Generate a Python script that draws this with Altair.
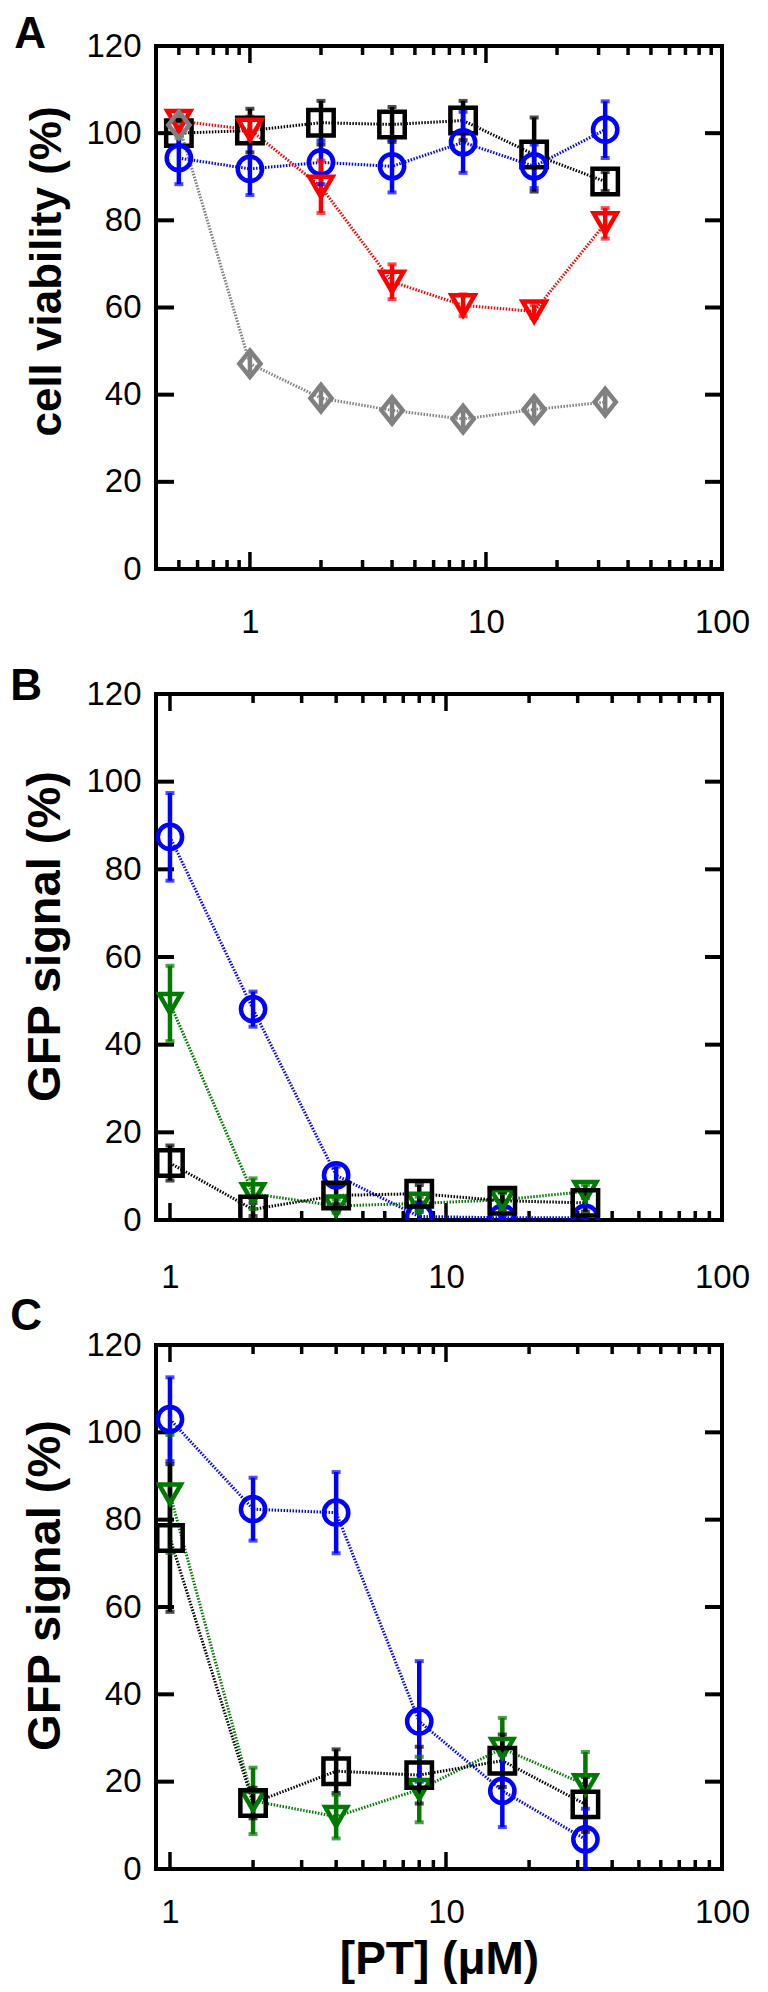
import altair as alt
import pandas as pd

FONT = "Liberation Sans"

# ---------------- Panel A : cell viability ----------------
A_CONC = [0.5, 1, 2, 4, 8, 16, 32]
A_BLACK = [100.0, 100.6, 102.4, 102.0, 102.9, 95.1, 88.9]
A_BLACK_ERR = [3.0, 5.0, 5.0, 4.0, 4.5, 8.5, 2.2]
A_BLUE = [94.3, 91.8, 93.3, 92.4, 97.9, 92.4, 100.8]
A_BLUE_ERR = [6.0, 6.0, 5.0, 6.0, 7.0, 5.0, 6.5]
A_RED = [102.8, 100.8, 87.7, 65.9, 60.5, 59.1, 79.3]
A_RED_ERR = [1.5, 3.0, 6.0, 4.0, 2.5, 1.5, 3.5]
A_GRAY = [101.9, 47.1, 39.2, 36.4, 34.4, 36.6, 38.3]
A_GRAY_ERR = [3.0, 2.0, 2.0, 2.0, 2.0, 2.0, 2.0]

# ---------------- Panel B : GFP signal ----------------
B_CONC = [1, 2, 4, 8, 16, 32]
B_BLUE = [87.4, 48.1, 10.2, 0.8, 0.5, 0.5]
B_BLUE_ERR = [10.0, 4.0, 2.0, 1.0, 0.5, 0.5]
B_GREEN = [49.4, 6.0, 3.2, 3.8, 4.6, 6.5]
B_GREEN_ERR = [8.6, 3.5, 1.5, 1.5, 1.5, 1.5]
B_BLACK = [13.0, 2.4, 5.6, 6.0, 4.4, 3.9]
B_BLACK_ERR = [4.0, 1.5, 2.0, 2.0, 2.0, 2.0]

# ---------------- Panel C : GFP signal ----------------
C_CONC = [1, 2, 4, 8, 16, 32]
C_BLUE = [103.0, 82.4, 81.6, 33.8, 17.9, 6.8]
C_BLUE_ERR = [9.6, 7.2, 9.3, 13.8, 8.3, 7.0]
C_GREEN = [85.9, 15.6, 12.0, 18.2, 27.6, 19.3]
C_GREEN_ERR = [13.5, 7.6, 5.0, 7.5, 7.0, 7.5]
C_BLACK = [75.8, 15.1, 22.4, 21.5, 24.8, 14.8]
C_BLACK_ERR = [16.9, 3.5, 5.0, 6.5, 6.0, 6.3]

# axis ticks / labels
X_LABELS = [1, 10, 100]
Y_LABELS = [0, 20, 40, 60, 80, 100, 120]
Y_TICKS = [20, 40, 60, 80, 100]
X_MAJOR = [1, 10]
X_MINOR_A = [0.5, 0.6, 0.7, 0.8, 0.9, 2, 3, 4, 5, 6, 7, 8, 9, 20, 30, 40, 50, 60, 70, 80, 90]
X_MINOR_BC = [2, 3, 4, 5, 6, 7, 8, 9, 20, 30, 40, 50, 60, 70, 80, 90]

SERIES = ["gray", "black", "blue", "red", "green"]
COLORS = ["#808080", "#000000", "#0000ff", "#ff0000", "#007a00"]
SHAPES = ["M0,-1L0.8,0L0,1L-0.8,0Z", "square", "circle", "triangle-down", "triangle-down"]
SIZES = [700, 480, 560, 640, 660]

W = 566


def long_df(conc, series):
    rows = []
    for name, vals, errs in series:
        for c, v, e in zip(conc, vals, errs):
            rows.append({"conc": c, "value": v, "lo": v - e, "hi": v + e, "series": name})
    return pd.DataFrame(rows)


def panel(df, xdomain, minors, height, letter, ytitle, ytitle_size, ytitle_y, xtitle,
          label_pad, ldx, ldy):
    H = height
    xs = alt.Scale(type="log", domain=xdomain, nice=False)
    ys = alt.Scale(domain=[0, 120], nice=False, zero=False)
    xaxis_kw = dict(values=X_LABELS, format="d", labelFlush=False, ticks=False, tickSize=0,
                    domain=False, grid=False, labelPadding=label_pad, labelFontSize=33,
                    labelFont=FONT, labelColor="black")
    if xtitle:
        xaxis = alt.Axis(title=xtitle, titleFont=FONT, titleFontSize=46, titleFontWeight="bold",
                         titleColor="black", titlePadding=8, **xaxis_kw)
    else:
        xaxis = alt.Axis(title=None, **xaxis_kw)
    yaxis = alt.Axis(title=ytitle, values=Y_LABELS, ticks=False, tickSize=0, domain=False,
                     grid=False, labelPadding=15, labelFontSize=33, labelFont=FONT,
                     labelColor="black", titleFont=FONT, titleFontSize=ytitle_size,
                     titleFontWeight="bold", titleColor="black", titlePadding=16,
                     titleY=ytitle_y)
    X = alt.X("conc:Q", scale=xs, axis=xaxis)
    Y = alt.Y("value:Q", scale=ys, axis=yaxis)
    col = alt.Color("series:N", scale=alt.Scale(domain=SERIES, range=COLORS), legend=None)

    maj = alt.Chart(pd.DataFrame({"conc": X_MAJOR}))
    mnr = alt.Chart(pd.DataFrame({"conc": minors}))
    yt = alt.Chart(pd.DataFrame({"value": Y_TICKS}))
    lab = alt.Chart(pd.DataFrame({"t": [letter]}))
    layers = [
        maj.mark_rule(color="black", strokeWidth=3.5).encode(x=X, y=alt.value(H), y2=alt.value(H - 17)),
        mnr.mark_rule(color="black", strokeWidth=3.5).encode(x=X, y=alt.value(H), y2=alt.value(H - 9)),
        maj.mark_rule(color="black", strokeWidth=3.5).encode(x=X, y=alt.value(0), y2=alt.value(17)),
        mnr.mark_rule(color="black", strokeWidth=3.5).encode(x=X, y=alt.value(0), y2=alt.value(9)),
        yt.mark_rule(color="black", strokeWidth=4).encode(y=Y, x=alt.value(0), x2=alt.value(18)),
        yt.mark_rule(color="black", strokeWidth=4).encode(y=Y, x=alt.value(W), x2=alt.value(W - 17)),
        lab.mark_text(align="left", baseline="alphabetic", fontSize=44, fontWeight="bold",
                      font=FONT, color="black").encode(text="t:N", x=alt.value(ldx), y=alt.value(ldy)),
    ]
    base = alt.Chart(df)
    layers += [
        base.mark_line(strokeDash=[1.5, 1.5], strokeWidth=3, clip=True).encode(x=X, y=Y, color=col),
        base.mark_rule(strokeWidth=4.5, clip=True).encode(
            x=X, y=alt.Y("lo:Q", scale=ys, axis=yaxis), y2="hi:Q", color=col),
        base.mark_tick(orient="horizontal", size=9, thickness=4, clip=True).encode(
            x=X, y=alt.Y("lo:Q", scale=ys, axis=yaxis), color=col),
        base.mark_tick(orient="horizontal", size=9, thickness=4, clip=True).encode(
            x=X, y=alt.Y("hi:Q", scale=ys, axis=yaxis), color=col),
        base.mark_point(filled=False, strokeWidth=4.5, opacity=1, clip=True).encode(
            x=X, y=Y, color=col,
            shape=alt.Shape("series:N", scale=alt.Scale(domain=SERIES, range=SHAPES), legend=None),
            size=alt.Size("series:N", scale=alt.Scale(domain=SERIES, range=SIZES), legend=None),
        ),
    ]
    return alt.layer(*layers).properties(width=W, height=H)


dfA = long_df(A_CONC, [("black", A_BLACK, A_BLACK_ERR), ("blue", A_BLUE, A_BLUE_ERR),
                       ("red", A_RED, A_RED_ERR), ("gray", A_GRAY, A_GRAY_ERR)])
dfB = long_df(B_CONC, [("blue", B_BLUE, B_BLUE_ERR), ("green", B_GREEN, B_GREEN_ERR),
                       ("black", B_BLACK, B_BLACK_ERR)])
dfC = long_df(C_CONC, [("green", C_GREEN, C_GREEN_ERR), ("black", C_BLACK, C_BLACK_ERR),
                       ("blue", C_BLUE, C_BLUE_ERR)])

pA = panel(dfA, [0.4, 100], X_MINOR_A, 523, "A", "cell viability (%)", 44, 225,
           None, 37, -141.7, 2.3)
pB = panel(dfB, [0.89, 100], X_MINOR_BC, 526, "B", "GFP signal (%)", 47, 242,
           None, 41, -145.7, 6.3)
pC = panel(dfC, [0.89, 100], X_MINOR_BC, 524, "C", "GFP signal (%)", 47, 240,
           "[PT] (μM)", 27, -145.7, -14.7)

chart = alt.vconcat(pA, pB, pC, spacing=125, bounds="flush").properties(
    padding={"left": 0, "top": 3, "right": 5, "bottom": 0}
).configure_view(stroke="black", strokeWidth=4)

chart.save("out.html", embed_options={"renderer": "svg", "actions": False})
